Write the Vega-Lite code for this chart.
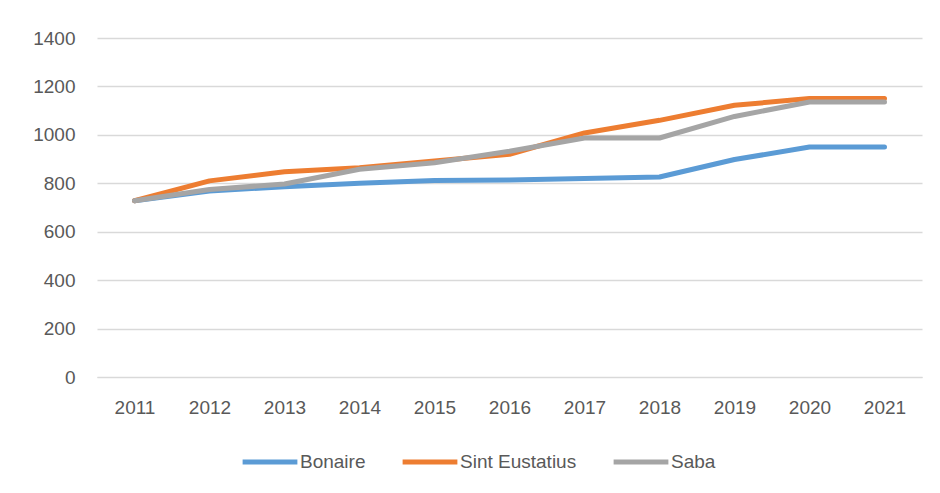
{
  "$schema": "https://vega.github.io/schema/vega-lite/v6.json",
  "width": 825,
  "height": 339,
  "autosize": {"type": "none"},
  "padding": {"left": 97, "top": 38, "right": 18, "bottom": 116},
  "background": "white",
  "config": {
    "view": {"stroke": null},
    "font": "Liberation Sans, sans-serif",
    "axis": {"labelColor": "#595959", "labelFontSize": 19, "labelFont": "Liberation Sans, sans-serif"},
    "legend": {"labelColor": "#595959", "labelFontSize": 19, "labelFont": "Liberation Sans, sans-serif"}
  },
  "data": {
    "values": [
      {"year": "2011", "island": "Bonaire", "value": 728},
      {"year": "2012", "island": "Bonaire", "value": 768},
      {"year": "2013", "island": "Bonaire", "value": 786},
      {"year": "2014", "island": "Bonaire", "value": 800},
      {"year": "2015", "island": "Bonaire", "value": 812},
      {"year": "2016", "island": "Bonaire", "value": 814},
      {"year": "2017", "island": "Bonaire", "value": 820},
      {"year": "2018", "island": "Bonaire", "value": 826},
      {"year": "2019", "island": "Bonaire", "value": 898},
      {"year": "2020", "island": "Bonaire", "value": 950},
      {"year": "2021", "island": "Bonaire", "value": 950},
      {"year": "2011", "island": "Sint Eustatius", "value": 728},
      {"year": "2012", "island": "Sint Eustatius", "value": 810},
      {"year": "2013", "island": "Sint Eustatius", "value": 848},
      {"year": "2014", "island": "Sint Eustatius", "value": 864},
      {"year": "2015", "island": "Sint Eustatius", "value": 892},
      {"year": "2016", "island": "Sint Eustatius", "value": 920},
      {"year": "2017", "island": "Sint Eustatius", "value": 1008},
      {"year": "2018", "island": "Sint Eustatius", "value": 1060},
      {"year": "2019", "island": "Sint Eustatius", "value": 1122},
      {"year": "2020", "island": "Sint Eustatius", "value": 1150},
      {"year": "2021", "island": "Sint Eustatius", "value": 1150},
      {"year": "2011", "island": "Saba", "value": 728},
      {"year": "2012", "island": "Saba", "value": 774},
      {"year": "2013", "island": "Saba", "value": 797},
      {"year": "2014", "island": "Saba", "value": 858},
      {"year": "2015", "island": "Saba", "value": 885},
      {"year": "2016", "island": "Saba", "value": 932},
      {"year": "2017", "island": "Saba", "value": 987},
      {"year": "2018", "island": "Saba", "value": 987},
      {"year": "2019", "island": "Saba", "value": 1076},
      {"year": "2020", "island": "Saba", "value": 1136},
      {"year": "2021", "island": "Saba", "value": 1136}
    ]
  },
  "mark": {"type": "line", "strokeWidth": 5, "strokeCap": "round", "strokeJoin": "round"},
  "encoding": {
    "x": {
      "field": "year", "type": "ordinal",
      "scale": {"type": "point", "padding": 0.5},
      "axis": {"title": null, "labelAngle": 0, "ticks": false, "domain": true, "domainColor": "#d9d9d9", "domainWidth": 1, "labelPadding": 21, "grid": false}
    },
    "y": {
      "field": "value", "type": "quantitative",
      "scale": {"domain": [0, 1400], "nice": false},
      "axis": {"title": null, "format": "d", "values": [0, 200, 400, 600, 800, 1000, 1200, 1400], "ticks": false, "domain": false, "grid": true, "gridColor": "#d9d9d9", "gridWidth": 1.5, "labelPadding": 22}
    },
    "color": {
      "field": "island", "type": "nominal",
      "scale": {"domain": ["Bonaire", "Sint Eustatius", "Saba"], "range": ["#5b9bd5", "#ed7d31", "#a5a5a5"]},
      "legend": {
        "title": null, "orient": "none", "direction": "horizontal",
        "legendX": 143, "legendY": 394,
        "symbolType": "stroke", "symbolSize": 3000, "symbolStrokeWidth": 5,
        "labelOffset": 0, "columnPadding": 26
      }
    },
    "order": {"field": "year"}
  }
}
